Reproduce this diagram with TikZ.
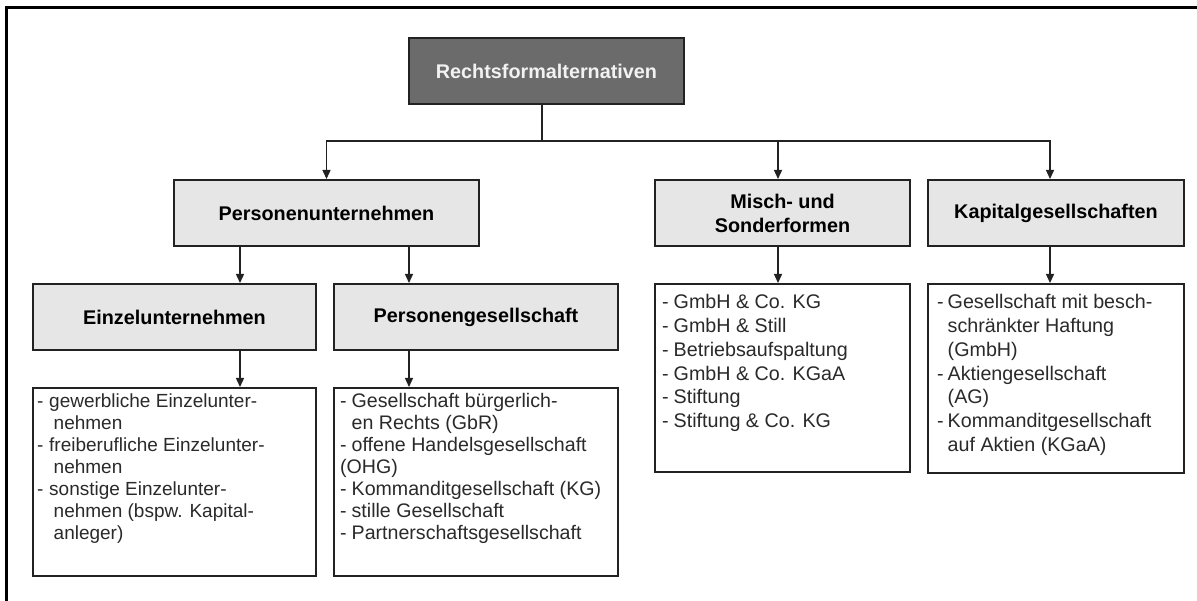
\documentclass[tikz,border=0pt]{standalone}
\usepackage{fontspec}
\setmainfont{Liberation Sans}
\usetikzlibrary{arrows.meta}

\definecolor{rootfill}{HTML}{6B6B6B}
\definecolor{headfill}{HTML}{E6E6E6}
\definecolor{edgecol}{HTML}{222222}
\definecolor{listcol}{HTML}{2A2A2A}
\definecolor{roottext}{HTML}{F2F2F2}

% hanging list items: dash box width and continuation indent
\newlength\dashw
\newlength\hangw
\newcommand\lstitem[1]{\par\hangindent=\hangw\hangafter=1\noindent\makebox[\dashw][l]{-}#1}
\newcommand\lstplain[1]{\par\noindent #1}

\tikzset{
  box/.style={draw=edgecol, line width=2pt, anchor=north west, inner sep=0pt},
  head/.style={box, fill=headfill, align=center,
    font=\bfseries\fontsize{19.8}{24}\selectfont},
  rootbox/.style={box, fill=rootfill, text=roottext,
    font=\bfseries\fontsize{19.8}{24}\selectfont},
  listbox/.style={box, fill=white},
  listtext/.style={anchor=base west, inner sep=0pt, text=listcol},
  conn/.style={draw=edgecol, line width=1.4pt},
  arr/.style={conn, -{Triangle[length=9pt,width=8pt]}},
  frameline/.style={line width=3pt, black, line join=miter}
}

\begin{document}
\begin{tikzpicture}[x=1pt,y=-1pt]
\useasboundingbox (0,0) rectangle (1197,601);

% outer frame (top and left edges)
\draw[frameline] (6.5,601) -- (6.5,7.5) -- (1197,7.5);

% root
\node[rootbox, minimum width=275pt, minimum height=66pt] (root) at (408,37) {Rechtsformalternativen};

% second level
\node[head, minimum width=305pt, minimum height=66pt] (pu) at (173,179) {Personenunternehmen};
\node[head, minimum width=255pt, minimum height=66pt] (ms) at (654,179) {Misch- und\\Sonderformen};
\node[head, minimum width=256pt, minimum height=66pt] (kg) at (927,179) {Kapitalgesellschaften};

% third level
\node[head, minimum width=283pt, minimum height=66pt] (ez) at (32,283) {Einzelunternehmen};
\node[head, minimum width=284pt, minimum height=66pt] (pg) at (333,283) {Personengesellschaft};

% list boxes
\node[listbox, minimum width=283pt, minimum height=188pt] (ezl) at (32,387) {};
\node[listbox, minimum width=284pt, minimum height=188pt] (pgl) at (333,387) {};
\node[listbox, minimum width=255pt, minimum height=188pt] (msl) at (654,283) {};
\node[listbox, minimum width=256pt, minimum height=189pt] (kgl) at (927,283) {};

% list contents
\node[listtext] (ezt) at (37,407.5) {\parbox[t]{275pt}{\fontsize{19}{22}\selectfont\raggedright
  \setlength\dashw{12pt}\setlength\hangw{16.5pt}%
  \lstitem{gewerbliche Einzelunter-\newline nehmen}%
  \lstitem{freiberufliche Einzelunter-\newline nehmen}%
  \lstitem{sonstige Einzelunter-\newline nehmen (bspw. Kapital-\newline anleger)}}};

\node[listtext] (pgt) at (340,407.5) {\parbox[t]{275pt}{\fontsize{19.6}{22}\selectfont\raggedright
  \setlength\dashw{11.5pt}\setlength\hangw{11.5pt}%
  \lstitem{Gesellschaft bürgerlich-\newline en Rechts (GbR)}%
  \lstitem{offene Handelsgesellschaft}%
  \lstplain{(OHG)}%
  \lstitem{Kommanditgesellschaft (KG)}%
  \lstitem{stille Gesellschaft}%
  \lstitem{Partnerschaftsgesellschaft}}};

\node[listtext] (mst) at (662,309) {\parbox[t]{245pt}{\fontsize{19.7}{23.7}\selectfont\raggedright
  \setlength\dashw{11.5pt}\setlength\hangw{11.5pt}%
  \lstitem{GmbH \& Co. KG}%
  \lstitem{GmbH \& Still}%
  \lstitem{Betriebsaufspaltung}%
  \lstitem{GmbH \& Co. KGaA}%
  \lstitem{Stiftung}%
  \lstitem{Stiftung \& Co. KG}}};

\node[listtext] (kgt) at (937,309) {\parbox[t]{245pt}{\fontsize{19.7}{23.7}\selectfont\raggedright
  \setlength\dashw{10.5pt}\setlength\hangw{10.5pt}%
  \lstitem{Gesellschaft mit besch-\newline schränkter Haftung\newline (GmbH)}%
  \lstitem{Aktiengesellschaft\newline (AG)}%
  \lstitem{Kommanditgesellschaft\newline auf Aktien (KGaA)}}};

% connector columns
\coordinate (hub) at (542,141);
\coordinate (colA) at (240,0);
\coordinate (colB) at (409,0);
\coordinate (colC) at (778,0);
\coordinate (colD) at (1050,0);

% connectors
\draw[conn] (root.south -| hub) -- (hub);
\draw[arr] (hub) -| (pu.north);
\draw[arr] (hub) -| (ms.north -| colC);
\draw[arr] (hub) -| (kg.north -| colD);
\draw[arr] (pu.south -| colA) -- (ez.north -| colA);
\draw[arr] (pu.south -| colB) -- (pg.north -| colB);
\draw[arr] (ez.south -| colA) -- (ezl.north -| colA);
\draw[arr] (pg.south -| colB) -- (pgl.north -| colB);
\draw[arr] (ms.south -| colC) -- (msl.north -| colC);
\draw[arr] (kg.south -| colD) -- (kgl.north -| colD);
\end{tikzpicture}
\end{document}
